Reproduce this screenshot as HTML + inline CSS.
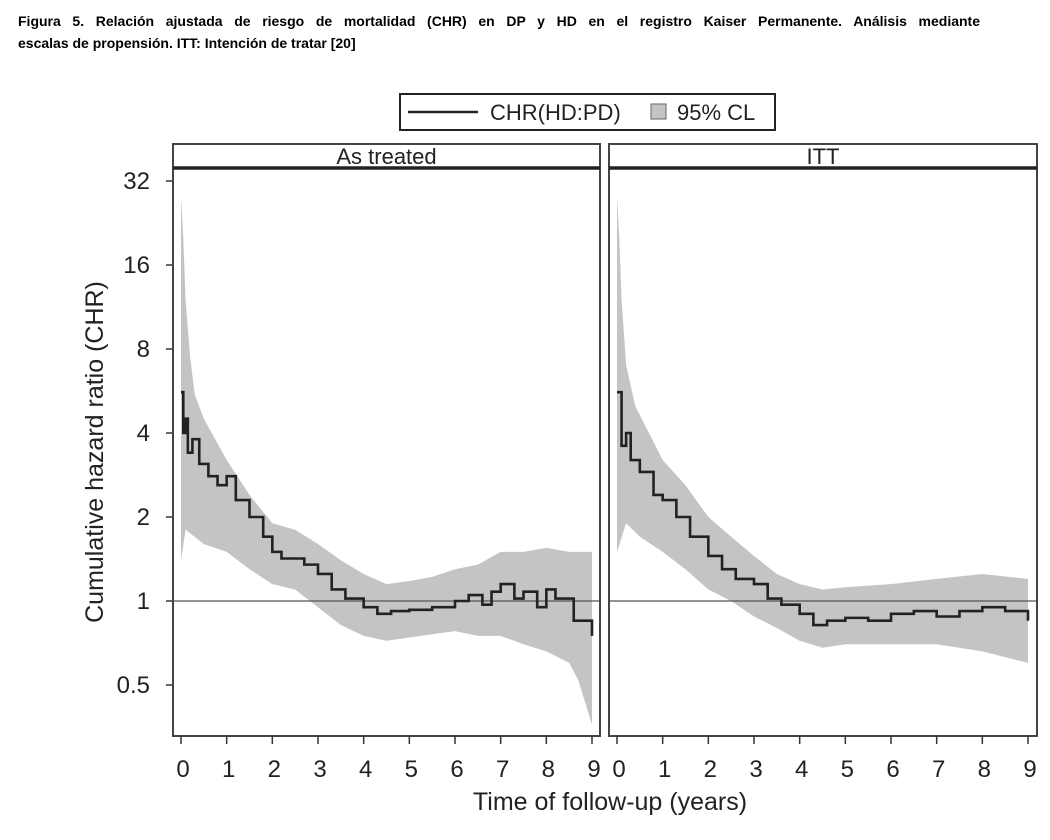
<!DOCTYPE html>
<html><head><meta charset="utf-8"><style>
body{margin:0;background:#fff;width:1050px;height:840px;overflow:hidden;font-family:"Liberation Sans",sans-serif}
#cap{position:absolute;left:18px;top:10px;width:962px;font-weight:bold;font-size:14px;line-height:22px;color:#000}
#cap .l1{display:block;text-align:justify;text-align-last:justify;white-space:nowrap;word-spacing:2px}
</style></head><body>
<div id="cap"><span class="l1">Figura 5. Relación ajustada de riesgo de mortalidad (CHR) en DP y HD en el registro Kaiser Permanente. Análisis mediante</span>escalas de propensión. ITT: Intención de tratar [20]</div>
<svg id="chart" width="1050" height="840" style="position:absolute;left:0;top:0"></svg>
<script>
const panels=["As treated","ITT"];
const yTicks=[0.5,1,2,4,8,16,32];
const xTicks=[0,1,2,3,4,5,6,7,8,9];
const lineT1=[0,0.05,0.1,0.15,0.25,0.4,0.6,0.8,1.0,1.2,1.5,1.8,2.0,2.2,2.5,2.7,3.0,3.3,3.6,4.0,4.3,4.6,5.0,5.5,6.0,6.3,6.6,6.8,7.0,7.3,7.5,7.8,8.0,8.2,8.5,8.6,8.8,9.0];
const lineV1=[5.6,4.0,4.5,3.4,3.8,3.1,2.8,2.6,2.8,2.3,2.0,1.7,1.5,1.42,1.42,1.35,1.25,1.1,1.02,0.95,0.9,0.92,0.93,0.95,1.0,1.05,0.97,1.08,1.15,1.02,1.08,0.95,1.1,1.02,1.02,0.85,0.85,0.75];
const hiT1=[0,0.05,0.1,0.2,0.3,0.5,1.0,1.5,2.0,2.5,3.0,3.5,4.0,4.5,5,5.5,6,6.5,7,7.5,8,8.5,9];
const hiV1=[28,20,12,7.5,5.5,4.5,3.2,2.4,1.9,1.8,1.6,1.4,1.25,1.15,1.18,1.22,1.3,1.35,1.5,1.5,1.55,1.5,1.5];
const loT1=[0,0.1,0.5,1.0,1.5,2.0,2.5,3.0,3.5,4.0,4.5,5,5.5,6,6.5,7,7.5,8,8.5,8.7,9];
const loV1=[1.4,1.8,1.6,1.5,1.3,1.15,1.1,0.95,0.82,0.75,0.72,0.74,0.76,0.78,0.75,0.75,0.7,0.66,0.6,0.52,0.36];
const lineT2=[0,0.1,0.2,0.3,0.5,0.8,1.0,1.3,1.6,2.0,2.3,2.6,3.0,3.3,3.6,4.0,4.3,4.6,5,5.5,6,6.5,7,7.5,8,8.5,9];
const lineV2=[5.6,3.6,4.0,3.2,2.9,2.4,2.3,2.0,1.7,1.45,1.3,1.2,1.15,1.02,0.97,0.9,0.82,0.85,0.87,0.85,0.9,0.92,0.88,0.92,0.95,0.92,0.85];
const hiT2=[0,0.05,0.1,0.2,0.4,0.7,1,1.5,2,2.5,3,3.5,4,4.5,5,6,7,8,9];
const hiV2=[28,20,12,7,5,4,3.2,2.6,2.0,1.7,1.45,1.25,1.15,1.1,1.12,1.15,1.2,1.25,1.2];
const loT2=[0,0.2,0.5,1,1.5,2,2.5,3,3.5,4,4.5,5,6,7,8,9];
const loV2=[1.5,1.9,1.7,1.5,1.3,1.1,1.0,0.88,0.8,0.72,0.68,0.7,0.7,0.7,0.66,0.6];
const series=[[lineT1,lineV1,hiT1,hiV1,loT1,loV1],[lineT2,lineV2,hiT2,hiV2,loT2,loV2]];
const NS="http://www.w3.org/2000/svg";
const svg=document.getElementById('chart');
function mk(t,a,p){const e=document.createElementNS(NS,t);for(const k in a)e.setAttribute(k,a[k]);(p||svg).appendChild(e);return e;}
const PL=[{l:173,r:600,x0:181,x9:592},{l:609,r:1037,x0:617,x9:1028}];
const TOP=144,STRIP=168,BOT=736;
const yS=v=>601-84*Math.log2(v);
yTicks.forEach(v=>{
 const l=mk('line',{x1:166,x2:173,y1:yS(v),y2:yS(v),stroke:'#333','stroke-width':1.5});
 
 const t=mk('text',{x:150,y:yS(v)+8,'text-anchor':'end','font-size':24,fill:'#222'});t.textContent=v;
 
});
const yt=mk('text',{x:0,y:0,transform:'translate(103,452) rotate(-90)','text-anchor':'middle','font-size':25,fill:'#222'});yt.textContent='Cumulative hazard ratio (CHR)';

const xt=mk('text',{x:610,y:810,'text-anchor':'middle','font-size':25,fill:'#222'});xt.textContent='Time of follow-up (years)';

function stepPts(T,V,xs){let p=[];for(let i=0;i<T.length;i++){if(i>0)p.push([xs(T[i]),yS(V[i-1])]);p.push([xs(T[i]),yS(V[i])]);}return p;}
function linPts(T,V,xs){return T.map((t,i)=>[xs(t),yS(V[i])]);}
panels.forEach((name,k)=>{
 const P=PL[k];const xs=t=>P.x0+(P.x9-P.x0)*t/9;
 const [lt,lv,ht,hv,ot,ov]=series[k];
 const g=mk('g',{});
 const hp=linPts(ht,hv,xs),op=linPts(ot,ov,xs).reverse();
 const band=mk('polygon',{points:hp.concat(op).map(p=>p.join(',')).join(' '),fill:'#c4c4c4'},g);
 
 const ref=mk('line',{x1:P.l,x2:P.r,y1:yS(1),y2:yS(1),stroke:'#555','stroke-width':1.2},g);
 
 const ln=mk('polyline',{points:stepPts(lt,lv,xs).map(p=>p.join(',')).join(' '),fill:'none',stroke:'#222','stroke-width':2.6},g);
 
 const fr=mk('rect',{x:P.l,y:TOP,width:P.r-P.l,height:BOT-TOP,fill:'none',stroke:'#444','stroke-width':2},g);
 
 const sl=mk('line',{x1:P.l,x2:P.r,y1:STRIP,y2:STRIP,stroke:'#222','stroke-width':3.5},g);
 
 const st=mk('text',{x:(P.l+P.r)/2,y:164,'text-anchor':'middle','font-size':22,fill:'#222'},g);st.textContent=name;
 
 xTicks.forEach(v=>{
  const tl=mk('line',{x1:xs(v),x2:xs(v),y1:BOT,y2:BOT+8,stroke:'#333','stroke-width':1.5},g);
  
  const tx=mk('text',{x:xs(v)+2,y:777,'text-anchor':'middle','font-size':24,fill:'#222'},g);tx.textContent=v;
  
 });
});
const lg=mk('g',{});
mk('rect',{x:400,y:94,width:375,height:36,fill:'#fff',stroke:'#222','stroke-width':2},lg);
mk('line',{x1:408,x2:478,y1:112,y2:112,stroke:'#222','stroke-width':2.6},lg);
const l1=mk('text',{x:490,y:120,'font-size':22,fill:'#222'},lg);l1.textContent='CHR(HD:PD)';

mk('rect',{x:651,y:104,width:15,height:15,fill:'#c4c4c4',stroke:'#666','stroke-width':1},lg);
const l2=mk('text',{x:677,y:120,'font-size':22,fill:'#222'},lg);l2.textContent='95% CL';

</script>
</body></html>
